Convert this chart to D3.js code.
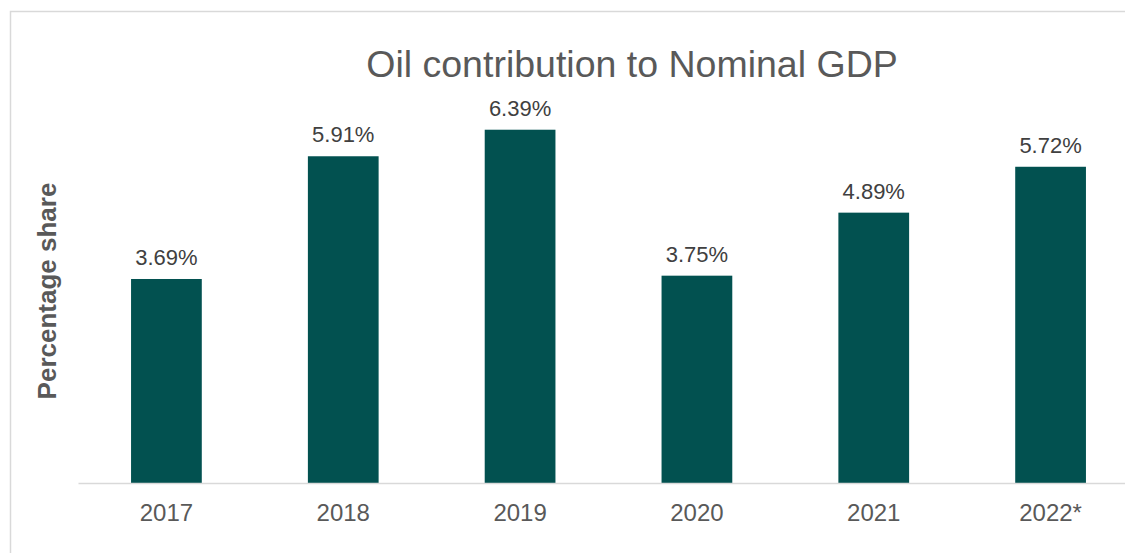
<!DOCTYPE html>
<html><head><meta charset="utf-8">
<script src="https://cdn.jsdelivr.net/npm/d3@7"></script>
<style>html,body{margin:0;padding:0;background:#fff;overflow:hidden}</style>
</head><body>
<svg id="c" width="1125" height="553"></svg>
<script>
const categories = ["2017","2018","2019","2020","2021","2022*"];
const values = [3.69, 5.91, 6.39, 3.75, 4.89, 5.72];
const labels = ["3.69%","5.91%","6.39%","3.75%","4.89%","5.72%"];
const title = "Oil contribution to Nominal GDP";
const yTitle = "Percentage share";

const svg = d3.select("#c");
const font = "'Liberation Sans', Arial, sans-serif";
// frame
svg.append("rect").attr("x",10.5).attr("y",11.5).attr("width",1200).attr("height",600)
  .attr("fill","#fff").attr("stroke","#d9d9d9").attr("stroke-width",1.5);

const x = d3.scaleBand().domain(categories).range([78, 1139]).paddingInner(0.6).paddingOuter(0.3);
const y = d3.scaleLinear().domain([0, 7]).range([483, 96]);

svg.append("text").attr("x",632).attr("y",77).attr("text-anchor","middle")
  .attr("font-family",font).attr("font-size",37.5).attr("fill","#595959").text(title);

svg.append("text").attr("transform","translate(56,291) rotate(-90)").attr("text-anchor","middle")
  .attr("font-family",font).attr("font-size",26).attr("font-weight","bold").attr("fill","#595959").text(yTitle);

svg.selectAll("rect.bar").data(values).join("rect").attr("class","bar")
  .attr("x",(d,i)=>x(categories[i])).attr("width",x.bandwidth())
  .attr("y",d=>y(d)).attr("height",d=>y(0)-y(d)).attr("fill","#025150");

svg.selectAll("text.lab").data(values).join("text").attr("class","lab")
  .attr("x",(d,i)=>x(categories[i])+x.bandwidth()/2).attr("y",d=>y(d)-14)
  .attr("text-anchor","middle").attr("font-family",font).attr("font-size",22).attr("fill","#404040")
  .text((d,i)=>labels[i]);

const xAxis = svg.append("g").attr("transform","translate(0,483)").call(d3.axisBottom(x).tickSize(0).tickPadding(21));
xAxis.select(".domain").attr("stroke","#d9d9d9").attr("stroke-width",1.5);
xAxis.selectAll("text").attr("font-family",font).attr("font-size",24).attr("fill","#595959");
</script>
</body></html>
